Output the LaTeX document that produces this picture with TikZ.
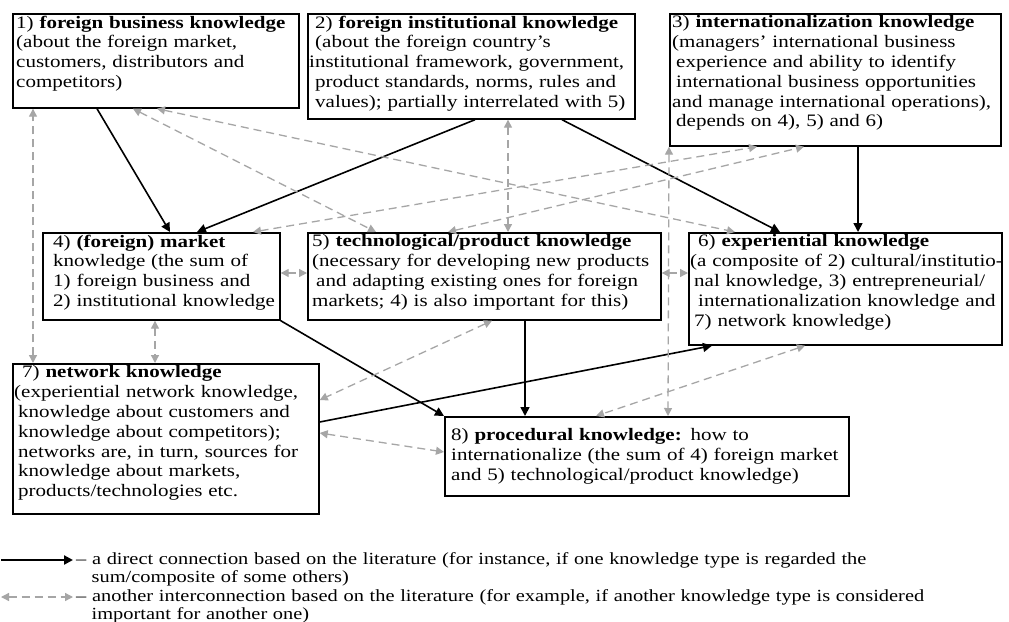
\documentclass[tikz,border=0pt]{standalone}
\usepackage{fontspec}
\setmainfont{Liberation Serif}[FakeStretch=1.2]
\usetikzlibrary{arrows.meta}
\definecolor{dgray}{HTML}{A6A6A6}
\newcommand{\fs}{\fontsize{17.5}{19.8}\selectfont}
\newcommand{\lfs}{\fontsize{17}{18}\selectfont}
\newcommand{\ind}[1]{\hspace*{#1pt}}
\begin{document}
\begin{tikzpicture}[x=1pt,y=-1pt,
  box/.style={draw=black, line width=1.7pt, anchor=north west, inner sep=0pt},
  txt/.style={anchor=north west, inner sep=0pt, align=left, text width=#1, font=\fs},
  sarr/.style={draw=black, line width=1.6pt, -{Triangle[length=9pt,width=9pt]}},
  darr/.style={draw=dgray, line width=1.3pt, dash pattern=on 8pt off 5pt,
     {Triangle[length=8pt,width=8pt]}-{Triangle[length=8pt,width=8pt]}}]
\useasboundingbox (0,0) rectangle (1009,621);
\fill[white] (0,0) rectangle (1009,621);
% boxes
\node[box, minimum width=286pt, minimum height=94pt]  (b1) at (12,13) {};
\node[box, minimum width=327pt, minimum height=105pt] (b2) at (307,13) {};
\node[box, minimum width=331pt, minimum height=132pt] (b3) at (669,13) {};
\node[box, minimum width=237pt, minimum height=87pt]  (b4) at (42,232) {};
\node[box, minimum width=353pt, minimum height=87pt]  (b5) at (307,232) {};
\node[box, minimum width=313pt, minimum height=112pt] (b6) at (688,232) {};
\node[box, minimum width=306pt, minimum height=150pt] (b7) at (12,363) {};
\node[box, minimum width=404pt, minimum height=79pt]  (b8) at (444,416) {};
% texts
\node[txt=300pt] (t1) at ([xshift=4pt,yshift=-2.5pt]b1.north west)
  {1) \textbf{foreign business knowledge}\\(about the foreign market,\\customers, distributors and\\competitors)};
\node[txt=340pt] (t2) at ([xshift=2pt,yshift=-2.5pt]b2.north west)
  {\ind{6}2) \textbf{foreign institutional knowledge}\\\ind{6}(about the foreign country's\\institutional framework, government,\\\ind{6}product standards, norms, rules and\\\ind{6}values); partially interrelated with 5)};
\node[txt=340pt] (t3) at ([xshift=3pt,yshift=-2.5pt]b3.north west)
  {3) \textbf{internationalization knowledge}\\(managers' international business\\\ind{4}experience and ability to identify\\\ind{4}international business opportunities\\and manage international operations),\\\ind{4}depends on 4), 5) and 6)};
\node[txt=250pt] (t4) at ([xshift=11pt,yshift=-2.5pt]b4.north west)
  {4) \textbf{(foreign) market}\\knowledge (the sum of\\1) foreign business and\\2) institutional knowledge};
\node[txt=360pt] (t5) at ([xshift=5pt,yshift=-2.5pt]b5.north west)
  {5) \textbf{technological/product knowledge}\\(necessary for developing new products\\\ind{4}and adapting existing ones for foreign\\markets; 4) is also important for this)};
\node[txt=330pt] (t6) at ([xshift=2pt,yshift=-2.5pt]b6.north west)
  {\ind{8}6) \textbf{experiential knowledge}\\(a composite of 2) cultural/institutio-\\\ind{4}nal knowledge, 3) entrepreneurial/\\\ind{8}internationalization knowledge and\\\ind{4}7) network knowledge)};
\node[txt=320pt] (t7) at ([xshift=2pt,yshift=-2.5pt]b7.north west)
  {\ind{8}7) \textbf{network knowledge}\\(experiential network knowledge,\\\ind{4}knowledge about customers and\\\ind{4}knowledge about competitors);\\\ind{4}networks are, in turn, sources for\\\ind{4}knowledge about markets,\\\ind{4}products/technologies etc.};
\node[txt=410pt, anchor=west] (t8) at ([xshift=7pt]b8.west)
  {8) \textbf{procedural knowledge:} how to\\internationalize (the sum of 4) foreign market\\and 5) technological/product knowledge)};
% solid connectors
\draw[sarr] ([xshift=85pt]b1.south west) -- ([xshift=128pt]b4.north west);
\draw[sarr] ([xshift=168pt]b2.south west) -- ([xshift=155pt]b4.north west);
\draw[sarr] ([xshift=255pt]b2.south west) -- ([xshift=92pt]b6.north west);
\draw[sarr] ([xshift=189pt]b3.south west) -- ([xshift=170pt]b6.north west);
\draw[sarr] (b4.south east) -- (b8.north west);
\draw[sarr] ([xshift=218pt]b5.south west) -- ([xshift=81pt]b8.north west);
\draw[sarr] ([yshift=-59pt]b7.north east) -- ([xshift=24pt]b6.south west);
% dashed connectors
\draw[darr] ([xshift=21pt]b7.north west) -- ([xshift=21pt]b1.south west);
\draw[darr] ([xshift=113pt]b4.south west) -- ([xshift=143pt]b7.north west);
\draw[darr] ([xshift=121pt]b1.south west) -- ([xshift=69pt]b5.north west);
\draw[darr] ([xshift=145pt]b1.south west) -- ([xshift=47pt]b6.north west);
\draw[darr] ([xshift=211pt]b4.north west) -- ([xshift=88pt]b3.south west);
\draw[darr] ([xshift=141pt]b5.north west) -- ([xshift=135pt]b3.south west);
\draw[darr] ([xshift=201pt]b2.south west) -- ([xshift=201pt]b5.north west);
\draw[darr] (b3.south west) -- ([xshift=224pt]b8.north west);
\draw[darr] ([yshift=-41pt]b5.north east) -- ([yshift=-41pt]b6.north west);
\draw[darr] ([yshift=-41pt]b4.north east) -- ([yshift=-41pt]b5.north west);
\draw[darr] ([xshift=185pt]b5.south west) -- ([yshift=-37pt]b7.north east);
\draw[darr] ([yshift=-70pt]b7.north east) -- ([yshift=-36pt]b8.north west);
\draw[darr] ([xshift=117pt]b6.south west) -- ([xshift=152pt]b8.north west);
% legend
\coordinate (la1) at (1,560);
\coordinate (la2) at (73,560);
\coordinate (lb1) at (1,597);
\coordinate (lb2) at (73,597);
\draw[sarr, line width=2.4pt] (la1) -- (la2);
\draw[darr] (lb1) -- (lb2);
\node[anchor=north west, inner sep=0pt, align=left, text width=940pt, font=\lfs] (leg1) at (76,552)
  {-- a direct connection based on the literature (for instance, if one knowledge type is regarded the\\\ind{15.5}sum/composite of some others)};
\node[anchor=north west, inner sep=0pt, align=left, text width=940pt, font=\lfs] (leg2) at (76,589)
  {-- another interconnection based on the literature (for example, if another knowledge type is considered\\\ind{15.5}important for another one)};
\end{tikzpicture}
\end{document}
